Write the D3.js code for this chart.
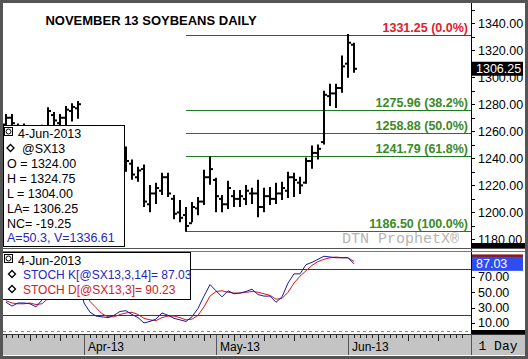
<!DOCTYPE html>
<html>
<head>
<meta charset="utf-8">
<script src="https://cdn.jsdelivr.net/npm/d3@7"></script>
<style>
body { margin: 0; background: #fff; }
svg text { font-family: "Liberation Sans", Arial, sans-serif; }
</style>
</head>
<body>
<div class="holder"></div>
<script>
// daily bars, Nov 13 soybeans
var dates = ["2013-03-12","2013-03-13","2013-03-14","2013-03-15","2013-03-18","2013-03-19","2013-03-20","2013-03-21","2013-03-22","2013-03-25",
  "2013-03-26","2013-03-27","2013-03-28","2013-04-01","2013-04-02","2013-04-03","2013-04-04","2013-04-05","2013-04-08","2013-04-09",
  "2013-04-10","2013-04-11","2013-04-12","2013-04-15","2013-04-16","2013-04-17","2013-04-18","2013-04-19","2013-04-22","2013-04-23",
  "2013-04-24","2013-04-25","2013-04-26","2013-04-29","2013-04-30","2013-05-01","2013-05-02","2013-05-03","2013-05-06","2013-05-07",
  "2013-05-08","2013-05-09","2013-05-10","2013-05-13","2013-05-14","2013-05-15","2013-05-16","2013-05-17","2013-05-20","2013-05-21",
  "2013-05-22","2013-05-23","2013-05-24","2013-05-28","2013-05-29","2013-05-30","2013-05-31","2013-06-03","2013-06-04"]
var opens = [1265,1270,1264,1258,1260,1256,1253,1262,1272,1266, 1270,1275,1277,1258,1245,1238,1232,1230,1230,1236,
  1246,1236,1226,1232,1206,1214,1216,1226,1210,1200, 1198,1192,1203,1208,1226,1224,1210,1206,1212,1210,
  1210,1214,1214,1204,1212,1210,1214,1216,1226,1222, 1222,1238,1244,1252,1286,1288,1292,1310,1324]
var highs = [1272,1272,1265,1265,1263,1262,1264,1277,1273.5,1272, 1278,1280,1281.7,1262,1248,1242,1240,1238,1240,1246,
  1248,1238.3,1233.1,1234.6,1219.6,1221.1,1228.6,1228.6,1212.1,1208.4, 1203.2,1206.9,1210.7,1230.8,1240.6,1224.9,1212.1,1222.6,1215.9,1215.9,
  1219.6,1217.4,1223.4,1217.4,1218.1,1221.1,1221.9,1229.3,1228.6,1225.6, 1239.8,1248.8,1249.5,1289.2,1294.4,1294.4,1315.3,1331.25,1324.75]
var lows = [1260,1262,1255,1254,1252,1250,1251,1258,1262,1261, 1265,1268,1270,1240,1233,1228,1226,1225,1228,1232,
  1230.8,1224.9,1223.4,1204.7,1200.9,1206.9,1213.6,1212.1,1195.7,1193.5, 1186.5,1193.5,1198.7,1206.2,1221.1,1200.9,1200.9,1203.2,1204.7,1204.7,
  1206.2,1206.9,1197.2,1200.9,1206.2,1206.9,1209.9,1211.4,1212.1,1214.4, 1221.9,1233.1,1239.8,1251,1279.4,1277.9,1289.2,1300.4,1304]
var closes = [1270,1266,1258,1262,1255,1252,1262,1275,1268,1270, 1276,1278,1280,1244,1238,1232,1231,1229,1236,1242,
  1238,1228,1231,1208,1214,1218,1226,1214,1199,1196, 1190,1204,1208,1226,1232,1212,1206,1218,1210,1212,
  1216,1214,1204,1212,1210,1214,1218,1226,1224,1220, 1238,1244,1247,1287,1288,1292,1308,1325.5,1306.25]

// stochastics
var stochK = [37,32,36,36,35,31,40,55,58,55, 62,68,70,36,24,19,18,17,20,25,
  26,21,17,10,12,15,23,20,16,14, 12,18,29,45,60,52,44,52,48,49,
  51,54,47,45,45,37,44,62,74,74, 86,89,93,97,96,95,95,95,87.03]
var stochD = [39,36,35,35,36,34,35,42,51,56, 58,62,67,58,38,30,22,18,18,21,
  23,24,21,16,14,13,17,19,19,17, 14,15,20,31,45,51,52,50,49,49,
  50,51,50,48,46,41,42,50,62,71, 78,85,90,93,95,96,95,95,90.23]

// retracement levels
var fibPrices = [1331.25, 1275.96, 1258.88, 1241.79, 1186.50]
var fibLabels = ["1331.25 (0.0%)", "1275.96 (38.2%)", "1258.88 (50.0%)", "1241.79 (61.8%)", "1186.50 (100.0%)"]
var fibStart = "2013-04-24"

var priceTicks = [1180, 1200, 1220, 1240, 1260, 1280, 1300, 1320, 1340]
var stochTicks = [10, 30, 50, 70]

var infoLines = ["O = 1324.00", "H = 1324.75", "L = 1304.00", "LA= 1306.25", "NC= -19.25"]

var width = 528, height = 359
var axisX = 471

var parse = d3.timeParse("%Y-%m-%d")
var fmtMonth = d3.timeFormat("%b-%y")

// trading days shown on the time strip, incl. the blank days after the last bar
var days = dates.map(parse)
var extra = d3.timeDay.range(d3.timeDay.offset(days[days.length - 1], 1), parse("2013-06-29"))
    .filter(d => d.getDay() != 0 && d.getDay() != 6)
var allDays = days.concat(extra)

var x = d3.scaleLinear().domain([0, 77.5]).range([6, axisX])
var y = d3.scaleLinear().domain([1174.4, 1353.4]).range([247, 5])
var ys = d3.scaleLinear().domain([-3.1, 101.2]).range([333, 253])

var svg = d3.select(".holder").append("svg")
    .attr("width", width)
    .attr("height", height)

svg.append("rect").attr("width", width).attr("height", height).attr("fill", "#fff")

// title
svg.append("text")
    .attr("x", 151).attr("y", 25)
    .attr("text-anchor", "middle")
    .style("font-size", "13px").style("font-weight", "bold")
    .text("NOVEMBER 13 SOYBEANS DAILY")

// fib lines
var fibIdx = dates.indexOf(fibStart)
svg.selectAll(".fib")
    .data(fibPrices).enter()
    .append("line")
    .attr("x1", x(fibIdx)).attr("x2", axisX)
    .attr("y1", d => Math.round(y(d)) + 0.5).attr("y2", d => Math.round(y(d)) + 0.5)
    .attr("stroke", (d, i) => i == 0 ? "#c01818" : "#1f7a1f")

svg.selectAll(".fiblab")
    .data(fibPrices).enter()
    .append("text")
    .attr("x", axisX - 3)
    .attr("y", d => y(d) - 3)
    .attr("text-anchor", "end")
    .style("font-size", "12.5px").style("font-weight", "bold")
    .attr("fill", (d, i) => i == 0 ? "#e0202a" : "#3a8a26")
    .text((d, i) => fibLabels[i])

// watermark
svg.append("text")
    .attr("x", 459).attr("y", 243)
    .attr("text-anchor", "end")
    .style("font-family", "'Liberation Mono', 'Courier New', monospace")
    .style("font-size", "15px")
    .attr("fill", "#b4b4b4")
    .text("DTN ProphetX\u00ae")

// OHLC bars
var bars = svg.append("g").attr("stroke", "#000").attr("stroke-width", 2)
dates.forEach(function(d, i) {
    var cx = x(i)
    bars.append("line").attr("x1", cx).attr("x2", cx).attr("y1", y(highs[i]) - 1).attr("y2", y(lows[i]) + 1)
    bars.append("line").attr("x1", cx - 3).attr("x2", cx).attr("y1", y(opens[i])).attr("y2", y(opens[i]))
    bars.append("line").attr("x1", cx).attr("x2", cx + 3).attr("y1", y(closes[i])).attr("y2", y(closes[i]))
})

// stoch panel guides
svg.selectAll(".ob")
    .data([80, 20]).enter()
    .append("line")
    .attr("x1", 3).attr("x2", axisX)
    .attr("y1", d => Math.round(ys(d)) + 0.5).attr("y2", d => Math.round(ys(d)) + 0.5)
    .attr("stroke", "#c00000")
svg.append("line")
    .attr("x1", 3).attr("x2", axisX)
    .attr("y1", Math.round(ys(0)) + 0.5).attr("y2", Math.round(ys(0)) + 0.5)
    .attr("stroke", "#888").attr("stroke-dasharray", "3,3")

var line = d3.line().x((d, i) => x(i))
svg.append("path").datum(stochD)
    .attr("d", line.y(d => ys(d)))
    .attr("fill", "none").attr("stroke", "#d01818").attr("stroke-width", 1)
svg.append("path").datum(stochK)
    .attr("d", line.y(d => ys(d)))
    .attr("fill", "none").attr("stroke", "#1818a8").attr("stroke-width", 1)

// right axis, price
svg.append("rect").attr("x", axisX).attr("y", 3).attr("width", width - axisX - 3).attr("height", 330).attr("fill", "#fff")
svg.append("line").attr("x1", axisX + 0.5).attr("x2", axisX + 0.5).attr("y1", 3).attr("y2", 355).attr("stroke", "#000")

svg.selectAll(".ptick")
    .data(d3.range(1180, 1351, 10)).enter()
    .append("line")
    .attr("x1", axisX).attr("x2", axisX + 4)
    .attr("y1", d => Math.round(y(d)) + 0.5).attr("y2", d => Math.round(y(d)) + 0.5)
    .attr("stroke", "#000")
svg.selectAll(".plab")
    .data(priceTicks).enter()
    .append("text")
    .attr("x", 478).attr("y", d => y(d)).attr("dy", "0.36em")
    .style("font-size", "12.5px")
    .text(d => d3.format(".2f")(d))

// last price flag
var last = closes[closes.length - 1]
svg.append("rect").attr("x", 472).attr("y", y(last) - 7).attr("width", 51).attr("height", 14).attr("fill", "#000")
svg.append("text").attr("x", 476).attr("y", y(last)).attr("dy", "0.36em")
    .style("font-size", "12.5px").attr("fill", "#fff")
    .text(d3.format(".2f")(last))

svg.append("rect").attr("x", axisX + 1).attr("y", 243).attr("width", width - axisX - 4).attr("height", 5).attr("fill", "#000")

// right axis, stoch
svg.selectAll(".stick")
    .data(stochTicks).enter()
    .append("line")
    .attr("x1", axisX).attr("x2", axisX + 4)
    .attr("y1", d => Math.round(ys(d)) + 0.5).attr("y2", d => Math.round(ys(d)) + 0.5)
    .attr("stroke", "#000")
svg.selectAll(".slab")
    .data(stochTicks).enter()
    .append("text")
    .attr("x", 478).attr("y", d => ys(d)).attr("dy", "0.36em")
    .style("font-size", "12.5px")
    .text(d => d3.format(".2f")(d))

var lastD = stochD[stochD.length - 1], lastK = stochK[stochK.length - 1]
svg.append("rect").attr("x", 472).attr("y", ys(lastD) - 7).attr("width", 51).attr("height", 14).attr("fill", "#8b1a1a")
svg.append("rect").attr("x", 472).attr("y", ys(lastK) - 7).attr("width", 51).attr("height", 14).attr("fill", "#2f4cf0")
svg.append("text").attr("x", 476).attr("y", ys(lastK)).attr("dy", "0.36em")
    .style("font-size", "12.5px").attr("fill", "#fff")
    .text(d3.format(".2f")(lastK))
svg.append("rect").attr("x", axisX + 1).attr("y", 330).attr("width", width - axisX - 4).attr("height", 4).attr("fill", "#000")

// panel separators
svg.append("line").attr("x1", 3).attr("x2", 525).attr("y1", 248.5).attr("y2", 248.5).attr("stroke", "#555")
svg.append("line").attr("x1", 3).attr("x2", 525).attr("y1", 251.5).attr("y2", 251.5).attr("stroke", "#777")

// time strip
svg.append("rect").attr("x", 3).attr("y", 334).attr("width", 522).attr("height", 21).attr("fill", "#c4c4c4")
svg.append("line").attr("x1", 3).attr("x2", 525).attr("y1", 334.5).attr("y2", 334.5).attr("stroke", "#333")
svg.append("line").attr("x1", axisX + 0.5).attr("x2", axisX + 0.5).attr("y1", 334).attr("y2", 355).attr("stroke", "#555")

svg.selectAll(".dtick")
    .data(allDays).enter()
    .append("line")
    .attr("x1", (d, i) => Math.round(x(i)) + 0.5).attr("x2", (d, i) => Math.round(x(i)) + 0.5)
    .attr("y1", 335).attr("y2", d => d.getDay() == 1 ? 341 : 338)
    .attr("stroke", "#222")

var monthStarts = allDays.map((d, i) => [d, i]).filter((p, k, arr) => k > 0 && p[0].getMonth() != arr[k - 1][0].getMonth())
svg.selectAll(".mdiv")
    .data(monthStarts).enter()
    .append("line")
    .attr("x1", p => Math.round(x(p[1])) + 0.5).attr("x2", p => Math.round(x(p[1])) + 0.5)
    .attr("y1", 335).attr("y2", 355)
    .attr("stroke", "#555")
svg.selectAll(".mlab")
    .data(monthStarts).enter()
    .append("text")
    .attr("x", p => x(p[1]) + 4).attr("y", 351)
    .style("font-size", "12px")
    .text(p => fmtMonth(p[0]))

svg.append("text")
    .attr("x", 498).attr("y", 350)
    .attr("text-anchor", "middle")
    .style("font-family", "'Liberation Mono', 'Courier New', monospace")
    .style("font-size", "13px")
    .text("1 Day")

// small glyphs used in the legends
function magIcon(g, x0, y0) {
    g.append("rect").attr("x", x0 + 0.5).attr("y", y0 + 0.5).attr("width", 8).attr("height", 8)
        .attr("fill", "#fff").attr("stroke", "#000")
    g.append("circle").attr("cx", x0 + 4.5).attr("cy", y0 + 4.5).attr("r", 2.5).attr("fill", "none").attr("stroke", "#000")
}
function diamond(g, cx, cy) {
    g.append("path").attr("d", "M" + cx + "," + (cy - 3.5) + "l3.5,3.5l-3.5,3.5l-3.5,-3.5z")
        .attr("fill", "#fff").attr("stroke", "#000").attr("stroke-width", 1.3)
}

// main info box
var info = svg.append("g")
info.append("rect").attr("x", 3.5).attr("y", 125.5).attr("width", 121).attr("height", 121)
    .attr("fill", "#fff").attr("stroke", "#000")
magIcon(info, 4, 127)
info.append("text").attr("x", 18).attr("y", 137.5).style("font-size", "12.5px").text("4-Jun-2013")
diamond(info, 10.5, 148)
info.append("text").attr("x", 22).attr("y", 152.5).style("font-size", "12.5px").text("@SX13")
info.selectAll(".il")
    .data(infoLines).enter()
    .append("text")
    .attr("x", 7).attr("y", (d, i) => 167.5 + i * 15)
    .style("font-size", "12.5px")
    .text(d => d)
info.append("text").attr("x", 7).attr("y", 242).style("font-size", "12.5px").attr("fill", "#2626c0")
    .text("A=50.3, V=1336.61")

// stoch info box
var sinfo = svg.append("g")
sinfo.append("rect").attr("x", 2.5).attr("y", 252.5).attr("width", 188).attr("height", 47)
    .attr("fill", "#fff").attr("stroke", "#000")
magIcon(sinfo, 4, 254)
sinfo.append("text").attr("x", 18).attr("y", 264.5).style("font-size", "12.5px").text("4-Jun-2013")
diamond(sinfo, 12, 274)
sinfo.append("text").attr("x", 23).attr("y", 278.5).style("font-size", "12px").attr("fill", "#2626c0")
    .text("STOCH K[@SX13,3,14]= " + d3.format(".2f")(lastK))
diamond(sinfo, 12, 289)
sinfo.append("text").attr("x", 23).attr("y", 293.5).style("font-size", "12px").attr("fill", "#d42020")
    .text("STOCH D[@SX13,3]= " + d3.format(".2f")(lastD))

// outer frame
svg.append("rect").attr("x", 1.5).attr("y", 1.5).attr("width", width - 3).attr("height", height - 3)
    .attr("fill", "none").attr("stroke", "#555").attr("stroke-width", 3)
</script>
</body>
</html>
